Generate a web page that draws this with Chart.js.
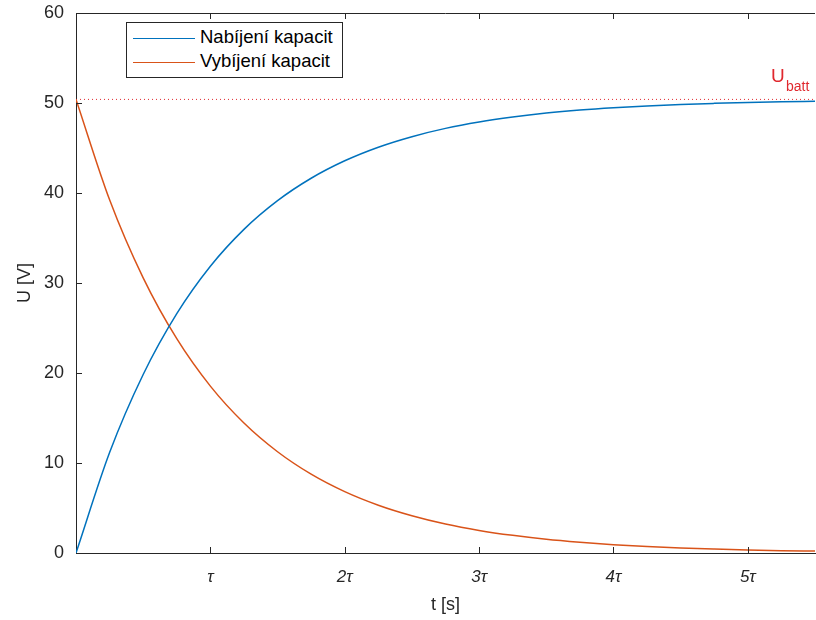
<!DOCTYPE html>
<html>
<head>
<meta charset="utf-8">
<script src="https://cdn.jsdelivr.net/npm/chart.js@4"></script>
<style>
  html, body { margin: 0; padding: 0; background: #fff; overflow: hidden; }
  #wrap { position: relative; width: 816px; height: 620px; overflow: hidden; }
  #legend {
    position: absolute; left: 126px; top: 22px; width: 217px; height: 56px;
    border: 1px solid #262626; background: #fff; box-sizing: border-box;
    font-family: "Liberation Sans", Arial, sans-serif; font-size: 18.5px; color: #000;
    padding-top: 2px;
  }
  #legend div { height: 24px; line-height: 24px; white-space: nowrap; }
  #legend span.swatch { display: inline-block; width: 62px; height: 0; border-top: 1.5px solid; vertical-align: middle; margin: 0 5px 0 6px; }
</style>
</head>
<body>
<div id="wrap">
  <canvas id="chart" width="840" height="620"></canvas>
  <div id="legend"></div>
</div>
<script>
// time in multiples of tau
const tValues = [0, 0.25, 0.5, 0.75, 1, 1.25, 1.5, 1.75, 2, 2.25, 2.5, 2.75, 3, 3.25, 3.5, 3.75, 4, 4.25, 4.5, 4.75, 5, 5.25, 5.5];
const chargeValues = [0, 11.16, 19.83, 26.59, 31.86, 35.96, 39.15, 41.64, 43.58, 45.09, 46.26, 47.18, 47.89, 48.44, 48.88, 49.22, 49.48, 49.68, 49.84, 49.96, 50.06, 50.14, 50.19];
const dischargeValues = [50.4, 39.25, 30.57, 23.81, 18.54, 14.44, 11.25, 8.76, 6.82, 5.31, 4.14, 3.22, 2.51, 1.96, 1.52, 1.19, 0.92, 0.72, 0.56, 0.44, 0.34, 0.26, 0.21];
const UBATT = 50.4;
const xTicks = [1, 2, 3, 4, 5];
const xTickLabels = ['τ', '2τ', '3τ', '4τ', '5τ'];
const seriesNames = ['Nabíjení kapacit', 'Vybíjení kapacit'];
const seriesColors = ['#0072BD', '#D95319'];

const AXIS_COLOR = '#262626';
const FONT = '"Liberation Sans", Arial, sans-serif';

const toPoints = (ys) => ys.map((v, i) => ({ x: tValues[i], y: v }));

// MATLAB-like box with inward ticks + U_batt label
const boxPlugin = {
  id: 'box',
  afterDatasetsDraw(chart) {
    const { ctx, chartArea: { left, right, top, bottom }, scales: { x, y } } = chart;
    ctx.save();
    ctx.strokeStyle = AXIS_COLOR;
    ctx.lineWidth = 1;
    ctx.beginPath();
    ctx.moveTo(left, top + 0.5);
    ctx.lineTo(right, top + 0.5);
    xTicks.forEach(t => {
      const px = Math.round(x.getPixelForValue(t)) + 0.5;
      ctx.moveTo(px, bottom);
      ctx.lineTo(px, bottom - 6);
      ctx.moveTo(px, top);
      ctx.lineTo(px, top + 6);
    });
    y.ticks.forEach(tk => {
      const py = Math.round(y.getPixelForValue(tk.value)) + 0.5;
      ctx.moveTo(left, py);
      ctx.lineTo(left + 6, py);
    });
    ctx.stroke();

    const yb = y.getPixelForValue(UBATT);
    ctx.fillStyle = '#E0282E';
    ctx.textBaseline = 'alphabetic';
    ctx.font = '19px ' + FONT;
    ctx.fillText('U', 771, yb - 17);
    ctx.font = '14px ' + FONT;
    ctx.fillText('batt', 786, yb - 8);
    ctx.restore();
  }
};

new Chart(document.getElementById('chart'), {
  type: 'line',
  data: {
    datasets: [{
      label: seriesNames[0],
      data: toPoints(chargeValues),
      borderColor: seriesColors[0],
      borderWidth: 1.5,
      pointRadius: 0,
      cubicInterpolationMode: 'monotone'
    }, {
      label: seriesNames[1],
      data: toPoints(dischargeValues),
      borderColor: seriesColors[1],
      borderWidth: 1.5,
      pointRadius: 0,
      cubicInterpolationMode: 'monotone'
    }, {
      label: 'U_batt',
      data: [{ x: 0, y: UBATT }, { x: 5.5, y: UBATT }],
      borderColor: '#E0282E',
      borderWidth: 1,
      borderDash: [1, 3],
      pointRadius: 0
    }]
  },
  options: {
    responsive: false,
    animation: false,
    layout: { padding: { top: 13, right: 25, left: 0, bottom: 0 } },
    scales: {
      x: {
        type: 'linear',
        min: 0,
        max: 5.5,
        afterBuildTicks: (scale) => { scale.ticks = xTicks.map(v => ({ value: v })); },
        afterFit: (scale) => { scale.height = 67; scale.paddingLeft = 0; scale.paddingRight = 0; },
        grid: { display: false, drawTicks: false },
        border: { display: true, color: AXIS_COLOR, width: 1 },
        ticks: {
          padding: 14,
          color: '#262626',
          font: { family: FONT, size: 17, style: 'italic' },
          callback: (v) => xTickLabels[xTicks.indexOf(v)]
        },
        title: {
          display: true,
          text: 't [s]',
          color: '#262626',
          font: { family: FONT, size: 18 },
          padding: { top: 0, bottom: 4 }
        }
      },
      y: {
        min: 0,
        max: 60,
        afterFit: (scale) => { scale.width = 76; scale.paddingTop = 0; scale.paddingBottom = 0; },
        grid: { display: false, drawTicks: false },
        border: { display: true, color: AXIS_COLOR, width: 1 },
        ticks: {
          stepSize: 10,
          padding: 12,
          color: '#262626',
          font: { family: FONT, size: 18 }
        },
        title: {
          display: true,
          text: 'U [V]',
          color: '#262626',
          font: { family: FONT, size: 18 },
          padding: { top: 14, bottom: 0 }
        }
      }
    },
    plugins: {
      legend: { display: false },
      tooltip: { enabled: false }
    }
  },
  plugins: [boxPlugin]
});

// legend box, top-left inside plot
const legendEl = document.getElementById('legend');
seriesNames.forEach((name, i) => {
  const row = document.createElement('div');
  row.innerHTML = '<span class="swatch" style="border-color:' + seriesColors[i] + '"></span>' + name;
  legendEl.appendChild(row);
});
</script>
</body>
</html>
